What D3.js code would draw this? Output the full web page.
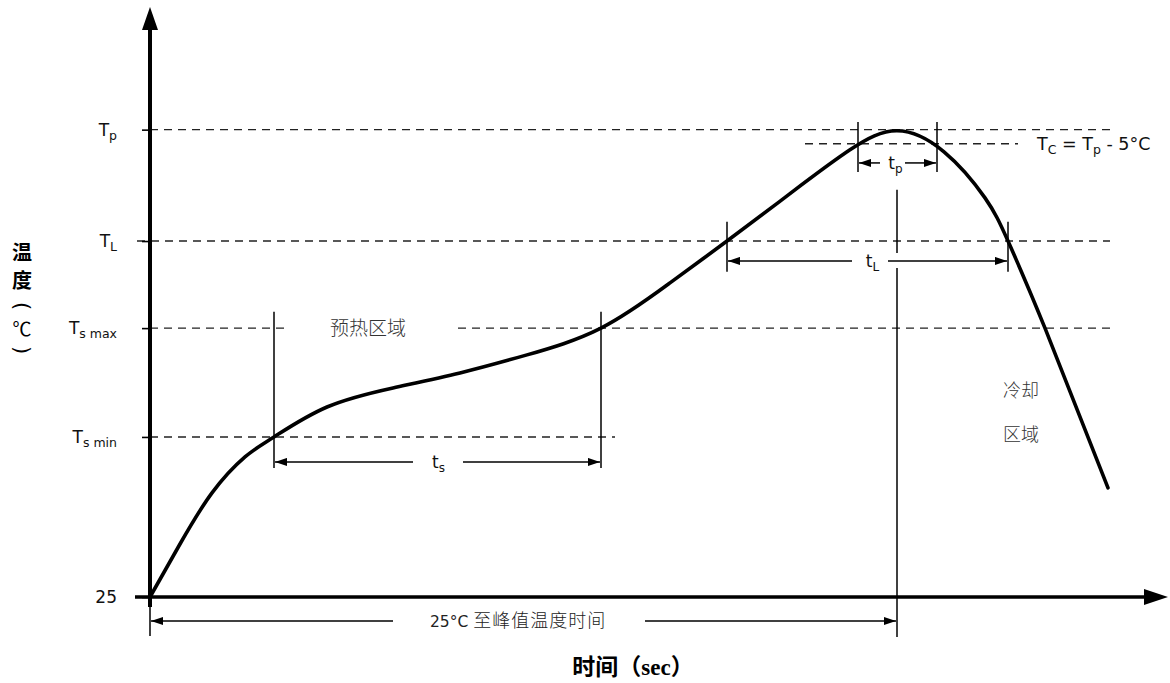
<!DOCTYPE html>
<html><head><meta charset="utf-8">
<script src="https://cdn.jsdelivr.net/npm/d3@7"></script>
<style>body{margin:0;background:#fff}svg{display:block}</style>
</head><body>
<svg id="c" width="1170" height="683"></svg>
<script>
// ---- data (schematic units: time in s, temperature in °C-like units) ----
const curveTime = [0, 30, 62, 95, 124, 177, 243, 310, 377, 451, 520, 577, 640, 700, 747, 794, 835, 858, 895, 958];
const curveTemp = [25, 66.4, 106.3, 134.4, 150, 173.4, 188.3, 200, 214.1, 235, 270.3, 303, 340, 374.2, 389.1, 372.7, 336.7, 303, 235, 110.2];

const levelValues = [390, 303, 235, 150, 25];
const levelMain   = ["T","T","T","T","25"];
const levelSub    = ["p","L","s max","s min",""];
const tcValue = 379;

// event times
const tsStart = 124, tsEnd = 451, tLStart = 577, tLEnd = 858, tpStart = 708, tpEnd = 787, tPeak = 747;

// dashed reference lines: [temperature, tFrom, tTo]
const dashLevels = [390, 379, 303, 235, 235, 150];
const dashFrom   = [0, 655, -13, 0, 308, 0];
const dashTo     = [960, 868, 960, 135, 960, 465];

const x = d3.scaleLinear().domain([0, 1000]).range([150, 1150]);
const y = d3.scaleLinear().domain([25, 485]).range([597, 8]);

const svg = d3.select("#c");
const defs = svg.append("defs");
defs.append("marker").attr("id","ah").attr("viewBox","0 0 12 8")
  .attr("refX",12).attr("refY",4).attr("markerWidth",12).attr("markerHeight",8)
  .attr("markerUnits","userSpaceOnUse").attr("orient","auto-start-reverse")
  .append("path").attr("d","M0,0L12,4L0,8Z").attr("fill","#000");

const latin = "'DejaVu Sans', Verdana, sans-serif";
const cjk = "'Noto Sans CJK SC', sans-serif";

// dashed lines
svg.append("g").selectAll("line").data(dashLevels).join("line")
  .attr("x1",(d,i)=>x(dashFrom[i])).attr("x2",(d,i)=>x(dashTo[i]))
  .attr("y1",d=>y(d)).attr("y2",d=>y(d))
  .attr("stroke","#222").attr("stroke-width",1.4).attr("stroke-dasharray","8,6");

// vertical marker segments
const vT    = [tsStart, tsEnd, tLStart, tLEnd, tPeak, tPeak, tpStart, tpEnd, 0];
const vFrom = [247.7, 247.7, 318, 318, 343, 282, 396, 396, 25];
const vTo   = [125.8, 125.8, 279, 279, 293.7, -6.3, 357, 357, -5.5];
svg.append("g").selectAll("line").data(vT).join("line")
  .attr("x1",d=>x(d)).attr("x2",d=>x(d))
  .attr("y1",(d,i)=>y(vFrom[i])).attr("y2",(d,i)=>y(vTo[i]))
  .attr("stroke","#000").attr("stroke-width",1.5);

// interval arrows
const aT    = [130.5, 130.5, 287.5, 287.5, 364, 364, 6.25, 6.25];
const aFrom = [tsStart, 313, tLStart, 738, tpStart, 755, 0, 495];
const aTo   = [263, tsEnd, 702, tLEnd, 730, tpEnd, 243, tPeak];
const aStart= [1,0,1,0,1,0,1,0];
const aEnd  = [0,1,0,1,0,1,0,1];
svg.append("g").selectAll("line").data(aT).join("line")
  .attr("x1",(d,i)=>x(aFrom[i])+(aStart[i]?1:0)).attr("x2",(d,i)=>x(aTo[i])-(aEnd[i]?1:0))
  .attr("y1",d=>y(d)).attr("y2",d=>y(d))
  .attr("stroke","#000").attr("stroke-width",1.5)
  .attr("marker-start",(d,i)=>aStart[i]?"url(#ah)":null)
  .attr("marker-end",(d,i)=>aEnd[i]?"url(#ah)":null);

// curve
const pts = curveTime.map((t,i)=>[t, curveTemp[i]]);
svg.append("path").datum(pts)
  .attr("d", d3.line().x(d=>x(d[0])).y(d=>y(d[1])).curve(d3.curveNatural))
  .attr("fill","none").attr("stroke","#000").attr("stroke-width",3.6).attr("stroke-linecap","round");

// axes
const ax = d3.axisLeft(y).tickValues(levelValues).tickSize(8).tickFormat("");
const gA = svg.append("g").attr("transform",`translate(${x(0)},0)`).call(ax);
gA.select(".domain").remove();
gA.selectAll(".tick line").attr("stroke","#000").attr("stroke-width",1.6);

const x0 = x(0), yb = y(25), yTop = y(485), xEnd = 1168;
svg.append("line").attr("x1",x0).attr("x2",x0).attr("y1",yb+10).attr("y2",yTop+20)
  .attr("stroke","#000").attr("stroke-width",4);
svg.append("path").attr("d",`M${x0},${yTop-1}L${x0-8},${yTop+22}L${x0+8},${yTop+22}Z`).attr("fill","#000");
svg.append("line").attr("x1",x0-15).attr("x2",xEnd-20).attr("y1",yb).attr("y2",yb)
  .attr("stroke","#000").attr("stroke-width",3.5);
svg.append("path").attr("d",`M${xEnd},${yb}L${xEnd-24},${yb-8}L${xEnd-24},${yb+8}Z`).attr("fill","#000");

// level labels
const lab = svg.append("g").attr("font-family",latin).attr("fill","#111");
levelValues.forEach((v,i)=>{
  const t = lab.append("text").attr("x",117).attr("y",y(v)+6).attr("text-anchor","end").attr("font-size",17);
  t.append("tspan").text(levelMain[i]);
  if (levelSub[i]) t.append("tspan").attr("font-size",12.5).attr("dy",4).text(levelSub[i]);
});

// Tc label
const tc = svg.append("text").attr("x",1037).attr("y",y(tcValue)+6).attr("font-family",latin).attr("font-size",17.5).attr("fill","#111");
tc.append("tspan").text("T");
tc.append("tspan").attr("font-size",12.5).attr("dy",4).text("C");
tc.append("tspan").attr("dy",-4).text(" = T");
tc.append("tspan").attr("font-size",12.5).attr("dy",4).text("p");
tc.append("tspan").attr("dy",-4).text(" - 5°C");

// interval labels
function sublabel(xc, yc, main, sub){
  const t = svg.append("text").attr("x",xc).attr("y",yc).attr("text-anchor","middle")
    .attr("font-family",latin).attr("font-size",17).attr("fill","#111");
  t.append("tspan").text(main);
  t.append("tspan").attr("font-size",12).attr("dy",4).text(sub);
}
sublabel(x((tsStart+tsEnd)/2)+1, y(130.5)+6, "t", "s");
sublabel(x((tLStart+tLEnd)/2)+5, y(287.5)+6, "t", "L");
sublabel(x((tpStart+tpEnd)/2)-2, y(364)+6, "t", "p");

// Chinese texts
svg.append("text").attr("x",330).attr("y",y(235)+7).attr("font-family",cjk).attr("font-size",19)
  .attr("font-weight",300).attr("fill","#333").text("预热区域");
svg.append("text").attr("x",1003).attr("y",y(187)+7).attr("font-family",cjk).attr("font-size",18)
  .attr("font-weight",300).attr("fill","#333").text("冷却");
svg.append("text").attr("x",1003).attr("y",y(152)+7).attr("font-family",cjk).attr("font-size",18)
  .attr("font-weight",300).attr("fill","#333").text("区域");

const bt = svg.append("text").attr("x",430).attr("y",y(6.25)+6).attr("fill","#222");
bt.append("tspan").attr("font-family",latin).attr("font-size",15.5).text("25°C ");
bt.append("tspan").attr("font-family",cjk).attr("font-size",18).attr("font-weight",300).attr("letter-spacing",1).text("至峰值温度时间");

// axis titles
const xt = svg.append("text").attr("x",633).attr("y",675).attr("text-anchor","middle").attr("fill","#000")
  .attr("font-size",23).attr("font-weight","bold");
xt.append("tspan").attr("font-family",cjk).text("时间（");
xt.append("tspan").attr("font-family","'Liberation Serif', serif").text("sec");
xt.append("tspan").attr("font-family",cjk).text("）");

// y-axis title, stacked vertically
const yChars = ["温","度","℃"];
const yPos = [251, 279, 327];
svg.append("g").selectAll("text").data(yChars).join("text")
  .attr("x",22).attr("y",(d,i)=>yPos[i]).attr("text-anchor","middle").attr("dominant-baseline","central")
  .attr("font-family",cjk).attr("font-size",(d,i)=>i<2?20:19).attr("font-weight",(d,i)=>i<2?"bold":"normal")
  .attr("fill","#000").text(d=>d);
const parChars = ["(",")"];
const parPos = [306, 350];
svg.append("g").selectAll("text").data(parChars).join("text")
  .attr("transform",(d,i)=>`translate(22,${parPos[i]}) rotate(90)`)
  .attr("text-anchor","middle").attr("dominant-baseline","central")
  .attr("font-family",latin).attr("font-size",21).attr("fill","#000").text(d=>d);
</script>
</body></html>
